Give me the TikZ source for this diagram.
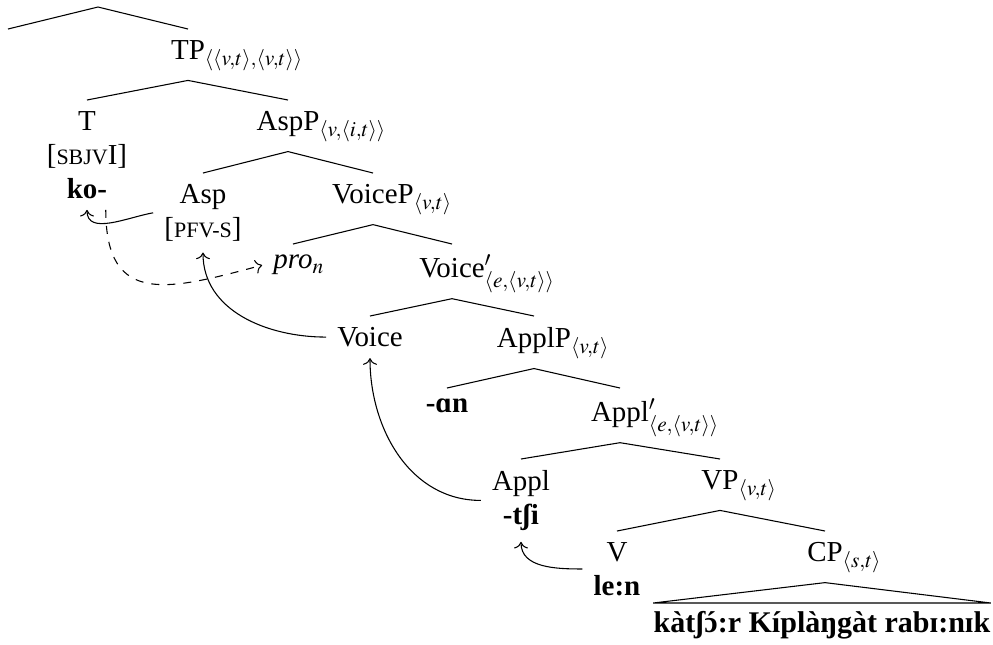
\documentclass[tikz,border=0pt]{standalone}
\usepackage{amsmath}
\usepackage{mathptmx}
\usepackage{fontspec}
\setmainfont{Liberation Serif}
\usepackage{tikz}
\usetikzlibrary{arrows.meta}

\newcommand{\fsc}[1]{{\fontsize{8.2}{9}\selectfont #1}}
\newcommand{\acuteo}{{\ooalign{ɔ\cr\hidewidth´\hidewidth\cr}}}

\tikzset{
	phr/.style={anchor=north, inner sep=4pt, text depth=3.7pt},
	leaf/.style={anchor=north, inner sep=4pt, align=center},
}

\begin{document}
\begin{tikzpicture}[x=0.373pt, y=-0.373pt, font=\fontsize{10.8}{12.7}\selectfont]
			\useasboundingbox (0,0) rectangle (993,644);
			
			% Top (cut off)
			\coordinate (root) at (98,7);
			\coordinate (lft) at (8,29);
			\node[phr] (tp) at (188,29) {TP\rlap{$_{\langle\langle v,t\rangle,\langle v,t\rangle\rangle}$}};
			\draw (lft) -- (root) -- (tp.north);
			
			% TP
			\node[leaf] (t) at (87,100) {T\\{[\fsc{SBJV}I]}\\\textbf{ko-}};
			\node[phr] (aspp) at (288,100) {AspP\rlap{$_{\langle v,\langle i,t\rangle\rangle}$}};
			\draw (t.north) -- (tp.south) -- (aspp.north);
			
			% AspP
			\node[leaf] (asp) at (203,173) {Asp\\{[\fsc{PFV-S}]}};
			\node[phr] (voicep) at (373,173) {VoiceP\rlap{$_{\langle v,t\rangle}$}};
			\draw (asp.north) -- (aspp.south) -- (voicep.north);
			
			% VoiceP
			\node[leaf] (pro) at (293,244) {\textit{pro}\rlap{$_n$}};
			\node[phr] (voicebar) at (452,244) {Voice\rlap{$'_{\langle e,\langle v,t\rangle\rangle}$}};
			\draw (pro.north) -- (voicep.south) -- (voicebar.north);
			
			% Voice'
			\node[leaf] (voice) at (370,316) {Voice};
			\node[phr] (applp) at (534,316) {ApplP\rlap{$_{\langle v,t\rangle}$}};
			\draw (voice.north) -- (voicebar.south) -- (applp.north);
			
			% ApplP
			\node[leaf] (an) at (447,388) {\textbf{-ɑn}};
			\node[phr] (applbar) at (620,388) {Appl\rlap{$'_{\langle e,\langle v,t\rangle\rangle}$}};
			\draw (an.north) -- (applp.south) -- (applbar.north);
			
			% Appl'
			\node[leaf] (appl) at (521,459) {Appl\\\textbf{-tʃi}};
			\node[phr] (vp) at (720,459) {VP\rlap{$_{\langle v,t\rangle}$}};
			\draw (appl.north) -- (applbar.south) -- (vp.north);
			
			% VP
			\node[leaf] (v) at (617,531) {V\\\textbf{le:n}};
			\node[phr] (cp) at (825,531) {CP\rlap{$_{\langle s,t\rangle}$}};
			\draw (v.north) -- (vp.south) -- (cp.north);
			
			% CP (triangle)
			\node[anchor=north, inner xsep=0pt, inner ysep=3pt, font=\fontsize{11.2}{13}\selectfont] (str) at (822,603) {\textbf{kàtʃ\acuteo:r Kíplàŋgàt rabɪ:nɪk}};
			\draw (cp.south) -- (str.north east) -- (str.north west) -- cycle;
			
			% Movement
			\draw[-{To}] (asp.west) to[out=190, in=-90] (t.south);
			\draw[-{To}, dashed] ([xshift=7pt]t.south) to[out=-90, in=195, looseness=1.5] (pro.west);
			\draw[-{To}] (voice.west) to[out=180, in=-90] (asp.south);
			\draw[-{To}] (appl.west) to[out=180, in=-90] (voice.south);
			\draw[-{To}] (v.west) to[out=180, in=-90] (appl.south);
			
		\end{tikzpicture}
\end{document}
